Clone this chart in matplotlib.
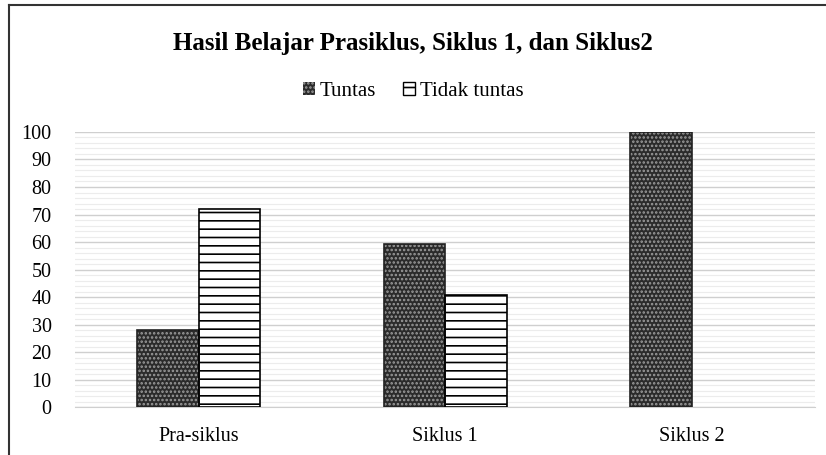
import numpy as np
import matplotlib
matplotlib.use("Agg")
import matplotlib.pyplot as plt
from matplotlib.lines import Line2D
from matplotlib.patches import Patch

categories = ["Pra-siklus", "Siklus 1", "Siklus 2"]
tuntas = [28, 59.4, 100]
tidak_tuntas = [72, 40.6, 0]
yticks = list(range(0, 101, 10))

plt.rcParams['font.family'] = ['Liberation Serif', 'DejaVu Serif']
plt.rcParams['hatch.linewidth'] = 1.2

fig = plt.figure(figsize=(8.26, 4.55), dpi=100)
ax = fig.add_axes([0.091, 0.105, 0.896, 0.605])

x = np.arange(len(categories))
w = 0.25
dark = '#2b2b2b'

# Tuntas: dark face with light dot pattern, outline drawn separately
ax.bar(x - w / 2, tuntas, w, color=dark, edgecolor='#9c9c9c', hatch='....', linewidth=0, zorder=3)
ax.bar(x - w / 2, tuntas, w, fill=False, edgecolor='#222222', linewidth=1.2, zorder=4)
# Tidak tuntas: white with horizontal lines
ax.bar(x + w / 2, tidak_tuntas, w, color='white', edgecolor='black', hatch='--', linewidth=0, zorder=3)
for xi, v in zip(x + w / 2, tidak_tuntas):
    if v > 0:
        ax.bar(xi, v, w, fill=False, edgecolor='black', linewidth=1.2, zorder=4)

ax.set_xlim(-0.5, 2.5)
ax.set_ylim(0, 100)
ax.set_xticks(x)
ax.set_xticklabels(categories, fontsize=14.5)
ax.set_yticks(yticks)
ax.set_yticklabels([str(t) for t in yticks], fontsize=14.5)
ax.set_yticks(np.arange(0, 101, 2), minor=True)
ax.tick_params(axis='both', which='both', length=0)
ax.tick_params(axis='y', pad=17)
ax.tick_params(axis='x', pad=14)
ax.grid(True, axis='y', which='major', color='#cfcfcf', linewidth=1.0, zorder=0)
ax.grid(True, axis='y', which='minor', color='#ececec', linewidth=0.8, zorder=0)
ax.set_axisbelow(True)
for s in ['top', 'right', 'left']:
    ax.spines[s].set_visible(False)
ax.spines['bottom'].set_color('#cfcfcf')

fig.text(0.5, 0.905, "Hasil Belajar Prasiklus, Siklus 1, dan Siklus2",
         ha='center', va='center', fontsize=18, fontweight='bold')

handles = [Patch(facecolor=dark, edgecolor='#9c9c9c', hatch='....', linewidth=0),
           Patch(facecolor='white', edgecolor='black', hatch='--', linewidth=1)]
fig.legend(handles, ["Tuntas", "Tidak tuntas"], loc='center', bbox_to_anchor=(0.5, 0.80),
           ncol=2, frameon=False, fontsize=15, handlelength=0.6, handleheight=0.6,
           handletextpad=0.2, columnspacing=1.3)

# outer chart border
fig.add_artist(Line2D([0.011, 0.011], [0, 0.99], color='#333333', linewidth=1.5))
fig.add_artist(Line2D([0.011, 1.0], [0.99, 0.99], color='#333333', linewidth=1.5))

fig.savefig('out.png', dpi=100)
